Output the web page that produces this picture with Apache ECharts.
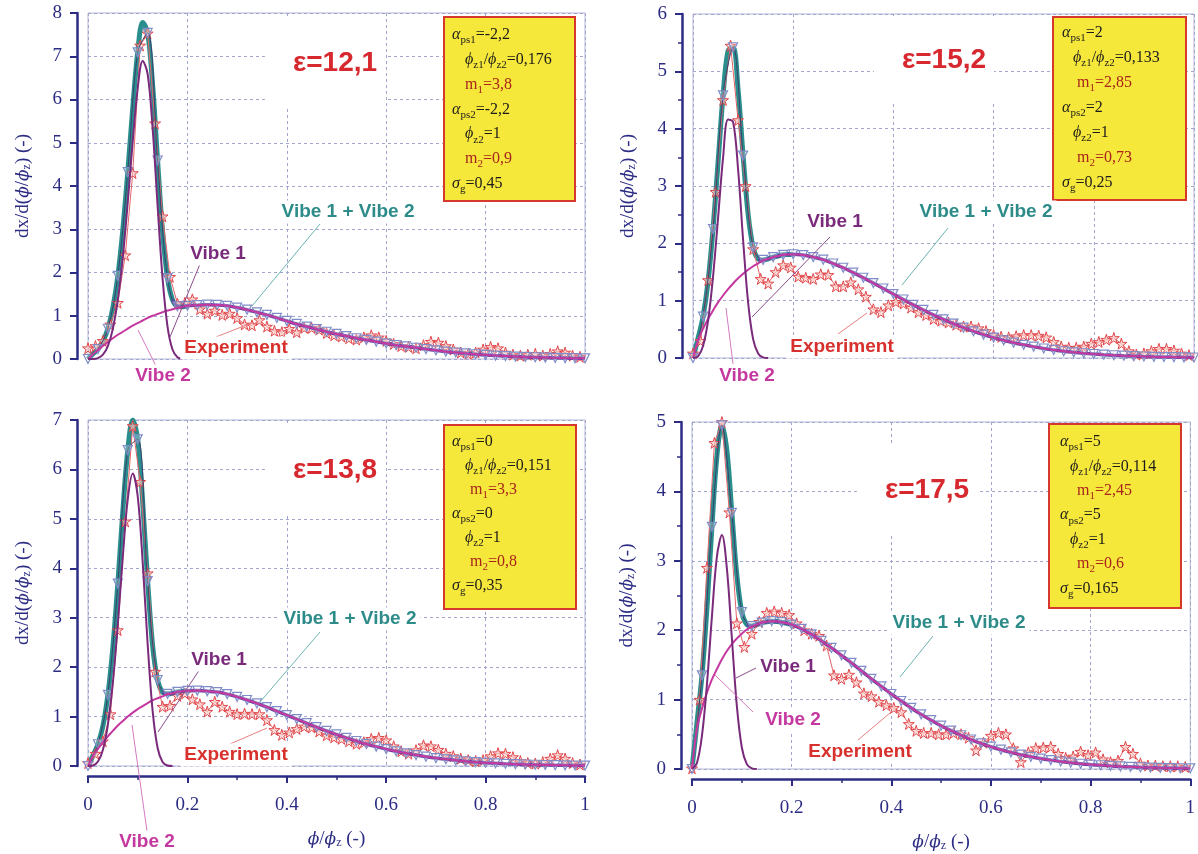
<!DOCTYPE html>
<html><head><meta charset="utf-8">
<script src="https://cdn.jsdelivr.net/npm/echarts@6/dist/echarts.min.js"></script>
<style>html,body{margin:0;padding:0;background:#fff}#c{width:1198px;height:854px}</style>
</head><body><div id="c"></div>
<script>
// ---------- DATA ----------
const MODEL_X = [0,0.01,0.02,0.03,0.04,0.05,0.06,0.07,0.08,0.09,0.1,0.11,0.12,0.13,0.14,0.15,0.16,0.17,0.18,0.19,0.2,
  0.22,0.24,0.26,0.28,0.3,0.32,0.34,0.36,0.38,0.4,0.42,0.44,0.46,0.48,0.5,0.52,0.54,0.56,0.58,0.6,
  0.62,0.64,0.66,0.68,0.7,0.72,0.74,0.76,0.78,0.8,0.82,0.84,0.86,0.88,0.9,0.92,0.94,0.96,0.98,1.0];
const EXP_X = [0,0.015,0.03,0.045,0.06,0.075,0.09,0.105,0.12,0.135,0.15,0.165,0.18,0.195,0.21,0.225,0.24,0.255,0.27,0.285,
  0.3,0.315,0.33,0.345,0.36,0.375,0.39,0.405,0.42,0.435,0.45,0.465,0.48,0.495,0.51,0.525,0.54,0.555,0.57,0.585,
  0.6,0.615,0.63,0.645,0.66,0.675,0.69,0.705,0.72,0.735,0.75,0.765,0.78,0.795,0.81,0.825,0.84,0.855,0.87,0.885,
  0.9,0.915,0.93,0.945,0.96,0.975,0.99];
const X_TICKS = [0, 0.2, 0.4, 0.6, 0.8, 1];

// Panel 1 : eps = 12,1
const V1_P1 = [0,0,0.02,0.10,0.30,0.70,1.37,2.35,3.62,5.03,6.26,6.89,6.59,5.34,3.55,1.87,0.75,0.22,0.04,0,null];
const V2_P1 = [0,0.11,0.21,0.30,0.39,0.48,0.56,0.63,0.70,0.77,0.83,0.89,0.95,1.00,1.04,1.08,1.12,1.15,1.18,1.21,1.23,
  1.245,1.255,1.25,1.23,1.19,1.14,1.08,1.02,0.95,0.88,0.81,0.75,0.69,0.63,0.58,0.53,0.48,0.44,0.40,0.36,
  0.32,0.29,0.26,0.23,0.20,0.17,0.15,0.13,0.11,0.095,0.08,0.068,0.057,0.047,0.04,0.033,0.027,0.022,0.018,0.015];
const SUM_PEAK_P1 = [0,0.12,0.23,0.41,0.70,1.18,1.92,2.98,4.32,5.80,7.09,7.78,7.54,6.34,4.59,2.95,1.87,1.37,1.22,1.21,1.23];
const EXP_P1 = [0.25,0.3,0.42,0.8,1.3,2.4,4.3,7.25,7.53,5.45,3.3,1.9,1.28,1.3,1.38,1.15,1.05,1.12,1.02,1.05,
  0.95,0.8,0.78,0.9,0.75,0.65,0.62,0.7,0.62,0.72,0.72,0.68,0.6,0.55,0.52,0.48,0.45,0.5,0.55,0.5,
  0.42,0.35,0.3,0.28,0.25,0.32,0.4,0.38,0.3,0.22,0.15,0.12,0.15,0.22,0.28,0.25,0.15,0.1,0.08,0.1,
  0.12,0.08,0.12,0.18,0.15,0.08,0.05];
const PARAMS_P1 = {eps:'ε=12,1', aps1:'-2,2', ratio:'0,176', m1:'3,8', aps2:'-2,2', phz2:'1', m2:'0,9', sg:'0,45'};

// Panel 2 : eps = 15,2
const V1_P2 = [0,0.03,0.21,0.65,1.42,2.44,3.49,4.16,4.12,3.29,2.06,0.97,0.33,0.08,0.01,0,null,null,null,null,null];
const V2_P2 = [0,0.31,0.51,0.68,0.83,0.97,1.09,1.20,1.30,1.39,1.47,1.54,1.60,1.65,1.70,1.73,1.76,1.78,1.80,1.805,1.81,
  1.795,1.76,1.715,1.648,1.574,1.49,1.40,1.307,1.212,1.115,1.02,0.927,0.838,0.753,0.673,0.598,0.529,0.466,0.408,0.356,
  0.309,0.267,0.23,0.197,0.166,0.141,0.118,0.099,0.083,0.07,0.058,0.048,0.04,0.033,0.026,0.021,0.017,0.014,0.011,0.009];
const SUM_PEAK_P2 = [0,0.34,0.72,1.33,2.25,3.41,4.58,5.36,5.42,4.68,3.53,2.51,1.93,1.73,1.71,1.73,1.76,1.78,1.80,1.805,1.81];
const EXP_P2 = [0.08,0.3,1.36,2.9,4.5,5.45,4.15,3.0,1.9,1.38,1.3,1.5,1.62,1.58,1.42,1.4,1.38,1.46,1.45,1.25,
  1.25,1.32,1.2,1.07,0.85,0.8,0.92,0.98,0.95,0.88,0.8,0.75,0.68,0.65,0.62,0.58,0.55,0.55,0.52,0.47,
  0.4,0.37,0.36,0.38,0.4,0.4,0.39,0.36,0.28,0.2,0.18,0.18,0.2,0.25,0.28,0.32,0.35,0.25,0.12,0.06,
  0.08,0.12,0.16,0.16,0.13,0.08,0.05];
const PARAMS_P2 = {eps:'ε=15,2', aps1:'2', ratio:'0,133', m1:'2,85', aps2:'2', phz2:'1', m2:'0,73', sg:'0,25'};

// Panel 3 : eps = 13,8
const V1_P3 = [0,0.01,0.09,0.33,0.84,1.69,2.87,4.23,5.40,5.92,5.46,4.13,2.47,1.12,0.37,0.08,0.01,0,null,null,null];
const V2_P3 = [0,0.20,0.35,0.48,0.60,0.71,0.82,0.91,1.00,1.08,1.15,1.21,1.27,1.33,1.37,1.41,1.45,1.47,1.50,1.51,1.52,
  1.525,1.515,1.495,1.455,1.399,1.335,1.266,1.19,1.11,1.03,0.948,0.866,0.786,0.71,0.638,0.57,0.506,0.446,0.392,0.342,
  0.297,0.257,0.221,0.189,0.16,0.136,0.114,0.096,0.08,0.066,0.055,0.045,0.037,0.03,0.025,0.02,0.016,0.013,0.01,0.008];
const SUM_PEAK_P3 = [0,0.21,0.44,0.81,1.44,2.40,3.69,5.14,6.39,7.00,6.61,5.34,3.74,2.44,1.74,1.49,1.46,1.47,1.50,1.51,1.52];
const EXP_P3 = [0.06,0.25,0.5,1.05,2.75,4.95,6.88,5.75,3.9,1.91,1.2,1.22,1.42,1.47,1.35,1.25,1.1,1.3,1.2,1.1,
  1.05,1.06,1.05,1.05,0.93,0.73,0.63,0.68,0.75,0.8,0.78,0.7,0.62,0.58,0.55,0.5,0.45,0.48,0.55,0.57,
  0.52,0.4,0.3,0.25,0.32,0.42,0.4,0.33,0.25,0.2,0.15,0.12,0.1,0.12,0.2,0.26,0.25,0.18,0.1,0.06,
  0.05,0.08,0.15,0.22,0.15,0.06,0.03];
const PARAMS_P3 = {eps:'ε=13,8', aps1:'0', ratio:'0,151', m1:'3,3', aps2:'0', phz2:'1', m2:'0,8', sg:'0,35'};

// Panel 4 : eps = 17,5
const V1_P4 = [0,0.09,0.48,1.22,2.20,3.06,3.37,2.89,1.89,0.91,0.31,0.07,0.01,0,null,null,null,null,null,null,null];
const V2_P4 = [0,0.58,0.87,1.10,1.29,1.44,1.58,1.70,1.80,1.88,1.95,2.01,2.05,2.08,2.11,2.12,2.13,2.125,2.115,2.10,2.08,
  2.02,1.94,1.845,1.745,1.638,1.53,1.415,1.30,1.19,1.081,0.98,0.88,0.787,0.703,0.624,0.553,0.486,0.425,0.37,0.321,
  0.278,0.24,0.206,0.176,0.15,0.128,0.108,0.091,0.076,0.064,0.054,0.045,0.037,0.031,0.025,0.021,0.017,0.014,0.011,0.009];
const SUM_PEAK_P4 = [0,0.67,1.35,2.32,3.49,4.51,4.95,4.59,3.69,2.79,2.26,2.08,2.06,2.08,2.11,2.12,2.13,2.125,2.115,2.10,2.08];
const EXP_P4 = [0.01,1.0,2.9,4.7,5.0,3.7,2.1,1.76,1.95,2.12,2.25,2.27,2.25,2.22,2.1,2.0,1.95,1.92,1.78,1.35,
  1.3,1.36,1.25,1.09,1.05,0.97,0.92,0.88,0.82,0.65,0.55,0.52,0.52,0.5,0.5,0.52,0.5,0.45,0.27,0.38,
  0.48,0.52,0.5,0.3,0.1,0.24,0.3,0.31,0.32,0.22,0.16,0.18,0.25,0.2,0.24,0.14,0.1,0.12,0.32,0.22,
  0.08,0.05,0.05,0.04,0.04,0.04,0.03];
const PARAMS_P4 = {eps:'ε=17,5', aps1:'5', ratio:'0,114', m1:'2,45', aps2:'5', phz2:'1', m2:'0,6', sg:'0,165'};

const Y_MAX = [8, 6, 7, 5];

// ---------- LAYOUT / STYLE ----------
const PANELS = [
  {v1:V1_P1, v2:V2_P1, sumPeak:SUM_PEAK_P1, exp:EXP_P1, p:PARAMS_P1, yMax:Y_MAX[0]},
  {v1:V1_P2, v2:V2_P2, sumPeak:SUM_PEAK_P2, exp:EXP_P2, p:PARAMS_P2, yMax:Y_MAX[1]},
  {v1:V1_P3, v2:V2_P3, sumPeak:SUM_PEAK_P3, exp:EXP_P3, p:PARAMS_P3, yMax:Y_MAX[2]},
  {v1:V1_P4, v2:V2_P4, sumPeak:SUM_PEAK_P4, exp:EXP_P4, p:PARAMS_P4, yMax:Y_MAX[3]}
];
const LAYOUT = [
  {grid:{left:88,top:13,width:497,height:346}, showX:false, minorY:false, violetFrom:0.17,
   box:[444,17,131,184], bx:[452,465,465], by0:35, bdy:24.8,
   eps:[325,63], lab:{v1:[218,254], v2:[163,376], sum:[348,212], exp:[236,348]},
   lead:{v1:[200,264,170,337], v2:[156,366,138,330], sum:[320,224,252,306], exp:[216,337,254,322]}},
  {grid:{left:693,top:14,width:501,height:344}, showX:false, minorY:true, violetFrom:0.13,
   box:[1053,17,133,183], bx:[1062,1073,1077], by0:33, bdy:25,
   eps:[934,60], lab:{v1:[835,222], v2:[747,376], sum:[986,212], exp:[842,347]},
   lead:{v1:[830,237,752,317], v2:[733,364,726,308], sum:[948,228,902,285], exp:[838,334,867,313]}},
  {grid:{left:88,top:420,width:497,height:346}, showX:true, minorY:false, violetFrom:0.15,
   box:[444,425,132,184], bx:[452,465,470], by0:442, bdy:24,
   eps:[325,470], lab:{v1:[219,660], v2:[147,842], sum:[350,619], exp:[236,755]},
   lead:{v1:[200,669,158,732], v2:[147,831,132,725], sum:[320,632,260,702], exp:[230,744,267,728]}},
  {grid:{left:692,top:422,width:501,height:347}, showX:true, minorY:true, violetFrom:0.11,
   box:[1049,424,132,184], bx:[1060,1070,1077], by0:442, bdy:24.4,
   eps:[917,490], lab:{v1:[788,667], v2:[793,720], sum:[959,623], exp:[860,752]},
   lead:{v1:[756,668,736,678], v2:[753,712,715,675], sum:[933,636,900,677], exp:[858,740,890,713]}}
];

const NAVY = '#2c2c84';
const SERIF = '"Liberation Serif", "DejaVu Serif", serif';
const SANS = '"Liberation Sans", Arial, sans-serif';
const C = {teal:'#2a8f8c', violet:'#5f45a3', tri:'#7e8cc8', v1:'#7a2a7b', v2:'#c4389f', exp:'#e0474c',
           yellow:'#f6e73b', boxBorder:'#d6392b', black:'#1b1b1b', mred:'#a8241c', eps:'#d6282e',
           sumLab:'#2d8c8a', grid:'#a2a6cf', frame:'#b3b6d6'};
const STAR = 'path://M50,0 L61,35 L98,35 L68,57 L79,91 L50,70 L21,91 L32,57 L2,35 L39,35 Z';

const zip = (xs, ys) => xs.map((x, i) => [x, ys[i] === undefined ? null : ys[i]]);

const grids = [], xAxes = [], yAxes = [], series = [], graphics = [];

const nameRich = {
  a: {fontFamily: SERIF, fontSize: 19, color: NAVY},
  i: {fontFamily: '"DejaVu Serif", serif', fontStyle: 'italic', fontSize: 17, color: NAVY},
  s: {fontFamily: SERIF, fontSize: 12, color: NAVY, verticalAlign: 'bottom', lineHeight: 12}
};

PANELS.forEach((P, i) => {
  const L = LAYOUT[i];
  grids.push(Object.assign({show: true, borderColor: C.frame, borderWidth: 1, backgroundColor: 'transparent'}, L.grid));
  xAxes.push({
    type: 'value', gridIndex: i, min: 0, max: 1, interval: 0.2, offset: 10,
    axisLine: {show: L.showX, onZero: false, lineStyle: {color: NAVY, width: 2.5}},
    axisTick: {show: L.showX, length: 7, lineStyle: {color: NAVY, width: 2}},
    minorTick: {show: L.showX, splitNumber: 2, length: 4, lineStyle: {color: NAVY, width: 1.5}},
    axisLabel: {show: L.showX, color: NAVY, fontFamily: SERIF, fontSize: 19, margin: 20,
                formatter: v => X_TICKS.indexOf(+v.toFixed(2)) >= 0 ? String(+v.toFixed(2)) : ''},
    splitLine: {show: true, lineStyle: {color: C.grid, type: [3, 3], width: 1}},
    name: L.showX ? '{i|ϕ}{a|/}{i|ϕ}{s|z}{a| (-)}' : '', nameLocation: 'middle', nameGap: 54,
    nameTextStyle: {rich: nameRich}
  });
  yAxes.push({
    type: 'value', gridIndex: i, min: 0, max: P.yMax, interval: 1, offset: 11,
    axisLine: {show: true, onZero: false, lineStyle: {color: NAVY, width: 2.5}},
    axisTick: {show: true, length: 7, lineStyle: {color: NAVY, width: 2}},
    minorTick: {show: L.minorY, splitNumber: 2, length: 4, lineStyle: {color: NAVY, width: 1.5}},
    axisLabel: {color: NAVY, fontFamily: SERIF, fontSize: 19, margin: 15},
    splitLine: {show: true, lineStyle: {color: C.grid, type: [3, 3], width: 1}},
    name: '{a|dx/d(}{i|ϕ}{a|/}{i|ϕ}{s|z}{a|) (-)}', nameLocation: 'middle', nameGap: 44,
    nameTextStyle: {rich: nameRich}
  });

  const v1 = zip(MODEL_X.slice(0, P.v1.length), P.v1).filter(d => d[1] !== null);
  const v2 = zip(MODEL_X, P.v2);
  const sum = zip(MODEL_X, P.sumPeak.concat(P.v2.slice(P.sumPeak.length)));
  const exp = zip(EXP_X, P.exp);
  const base = {type: 'line', xAxisIndex: i, yAxisIndex: i, silent: true, animation: false};

  series.push(Object.assign({}, base, {name: 'sum' + i, data: sum.filter(d => d[0] <= 0.2), smooth: 0.35,
    showSymbol: false, lineStyle: {color: C.teal, width: 5}, z: 2}));
  series.push(Object.assign({}, base, {name: 'exp' + i, data: exp, smooth: false,
    symbol: STAR, symbolSize: 11, showSymbol: true,
    itemStyle: {color: 'rgba(250,205,198,0.6)', borderColor: C.exp, borderWidth: 1},
    lineStyle: {color: '#e4646a', width: 1}, z: 3}));
  series.push(Object.assign({}, base, {name: 'violet' + i, data: sum.filter(d => d[0] >= L.violetFrom - 1e-9),
    smooth: 0.35, showSymbol: false, lineStyle: {color: C.violet, width: 3.5}, z: 4}));
  series.push(Object.assign({}, base, {name: 'tri' + i,
    data: sum.filter(d => Math.round(d[0] * 100) % 2 === 0), smooth: 0.35,
    symbol: 'triangle', symbolRotate: 180, symbolSize: 9, showSymbol: true,
    itemStyle: {color: 'rgba(255,255,255,0.25)', borderColor: C.tri, borderWidth: 1.2},
    lineStyle: {color: '#3d3f6e', width: 1}, z: 5}));
  series.push(Object.assign({}, base, {name: 'vibe2_' + i, data: v2, smooth: 0.35, showSymbol: false,
    lineStyle: {color: C.v2, width: 2}, z: 6}));
  series.push(Object.assign({}, base, {name: 'vibe1_' + i, data: v1, smooth: 0.35, showSymbol: false,
    lineStyle: {color: C.v1, width: 2}, z: 6}));

  // ---- annotations ----
  const Z = 100;
  [['v1', '#8d4c8d'], ['v2', '#d47ac0'], ['sum', '#6bb3b1'], ['exp', '#e58080']].forEach(([k, col]) => {
    const s = L.lead[k];
    graphics.push({type: 'line', z: Z, shape: {x1: s[0], y1: s[1], x2: s[2], y2: s[3]},
      style: {stroke: col, lineWidth: 1}, silent: true});
  });
  const labs = [['v1', 'Vibe 1', C.v1], ['v2', 'Vibe 2', C.v2], ['sum', 'Vibe 1 + Vibe 2', C.sumLab], ['exp', 'Experiment', '#d8302c']];
  labs.forEach(([k, txt, col]) => {
    graphics.push({type: 'text', z: Z + 1, x: L.lab[k][0], y: L.lab[k][1], silent: true,
      style: {text: txt, fill: col, font: 'bold 19px ' + SANS, align: 'center', verticalAlign: 'middle',
              backgroundColor: '#fff', padding: [2, 4]}});
  });
  graphics.push({type: 'text', z: Z, x: L.eps[0], y: L.eps[1], silent: true,
    style: {text: P.p.eps, fill: C.eps, font: 'bold 28px ' + SANS, align: 'center', verticalAlign: 'middle',
            backgroundColor: '#fff', padding: [34, 8, 26, 28]}});
  graphics.push({type: 'rect', z: Z, silent: true,
    shape: {x: L.box[0], y: L.box[1], width: L.box[2], height: L.box[3]},
    style: {fill: C.yellow, stroke: C.boxBorder, lineWidth: 2}});
  const p = P.p;
  const lines = [
    [0, `{gi|α}{gs|ps1}{g|=${p.aps1}}`],
    [1, `{gi|ϕ}{gs|z1}{g|/}{gi|ϕ}{gs|z2}{g|=${p.ratio}}`],
    [2, `{r|m}{rs|1}{r|=${p.m1}}`],
    [0, `{gi|α}{gs|ps2}{g|=${p.aps2}}`],
    [1, `{gi|ϕ}{gs|z2}{g|=${p.phz2}}`],
    [2, `{r|m}{rs|2}{r|=${p.m2}}`],
    [0, `{gi|σ}{gs|g}{g|=${p.sg}}`]
  ];
  const rich = {
    g: {font: '16px ' + SERIF, fill: C.black, lineHeight: 22, verticalAlign: 'middle'},
    gi: {font: 'italic 16px ' + SERIF, fill: C.black, lineHeight: 22, verticalAlign: 'middle'},
    gs: {font: '11px ' + SERIF, fill: C.black, lineHeight: 11, verticalAlign: 'bottom'},
    r: {font: '16px ' + SERIF, fill: C.mred, lineHeight: 22, verticalAlign: 'middle'},
    rs: {font: '11px ' + SERIF, fill: C.mred, lineHeight: 11, verticalAlign: 'bottom'}
  };
  lines.forEach(([ind, txt], j) => {
    graphics.push({type: 'text', z: Z + 1, silent: true, x: L.bx[ind], y: L.by0 + j * L.bdy - 11,
      style: {text: txt, rich: rich, align: 'left', verticalAlign: 'top'}});
  });
});

const chart = echarts.init(document.getElementById('c'), null, {renderer: 'canvas'});
chart.setOption({
  animation: false,
  backgroundColor: '#fff',
  grid: grids, xAxis: xAxes, yAxis: yAxes, series: series,
  graphic: {elements: graphics}
});
</script></body></html>
